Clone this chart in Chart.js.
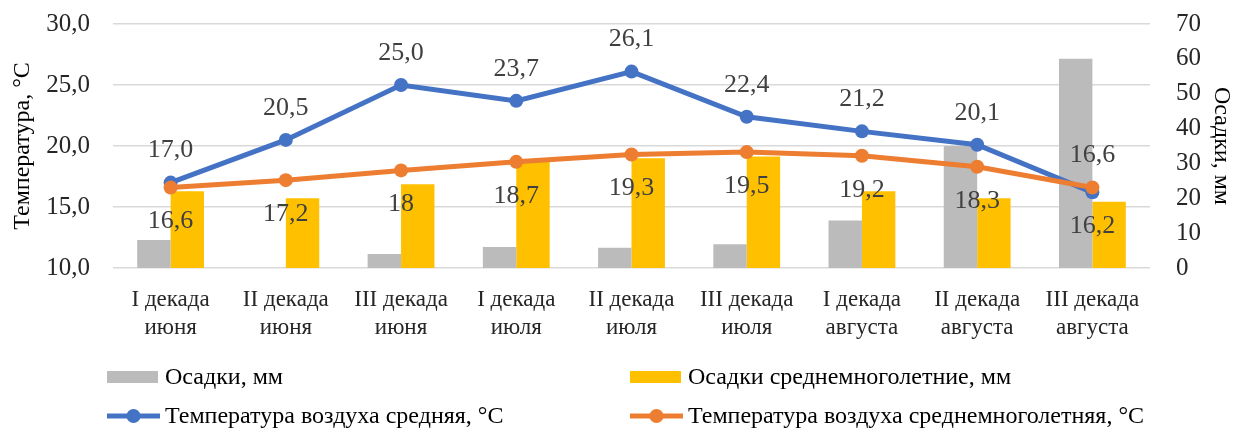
<!DOCTYPE html>
<html>
<head>
<meta charset="utf-8">
<script src="https://cdn.jsdelivr.net/npm/chart.js@4"></script>
<style>
  html, body { margin: 0; padding: 0; background: #fff; }
  #wrap { width: 1236px; height: 432px; }
</style>
</head>
<body>
<div id="wrap"><canvas id="canvas" width="1236" height="432"></canvas></div>
<script>
// categories (two-line labels)
var decades = [
    ['I декада', 'июня'], ['II декада', 'июня'], ['III декада', 'июня'],
    ['I декада', 'июля'], ['II декада', 'июля'], ['III декада', 'июля'],
    ['I декада', 'августа'], ['II декада', 'августа'], ['III декада', 'августа']
];
// precipitation, mm (right axis)
var rain = [8, 0, 4, 6, 5.8, 6.8, 13.6, 35, 60];
var rainNorm = [22, 20, 24, 30.5, 31.5, 32, 22, 20, 19];
// temperature, °C (left axis)
var tempMean = [17.0, 20.5, 25.0, 23.7, 26.1, 22.4, 21.2, 20.1, 16.2];
var tempNorm = [16.6, 17.2, 18, 18.7, 19.3, 19.5, 19.2, 18.3, 16.6];

var serif = "'Liberation Serif', 'Times New Roman', serif";
var comma = function(s) { return String(s).replace('.', ','); };

// data labels for the two temperature lines
var lineLabels = {
    id: 'lineLabels',
    afterDatasetsDraw: function(chart) {
        var ctx = chart.ctx;
        ctx.save();
        ctx.font = '26px ' + serif;
        ctx.fillStyle = '#404040';
        ctx.textAlign = 'center';
        ctx.textBaseline = 'middle';
        [2, 3].forEach(function(di) {
            var meta = chart.getDatasetMeta(di);
            meta.data.forEach(function(pt, i) {
                var v = chart.data.datasets[di].data[i];
                var other = di == 2 ? tempNorm[i] : tempMean[i];
                var up = v >= other;
                var txt = di == 2 ? comma(v.toFixed(1)) : comma(v);
                ctx.fillText(txt, pt.x, pt.y + (up ? -32 : 34));
            });
        });
        ctx.restore();
    }
};

// 2x2 legend under the chart
var gridLegend = {
    id: 'gridLegend',
    afterDraw: function(chart) {
        var ctx = chart.ctx;
        var ds = chart.data.datasets;
        var cols = [107, 630], rows = [377, 416];
        ctx.save();
        ctx.font = '24px ' + serif;
        ctx.textBaseline = 'middle';
        ds.forEach(function(d, i) {
            var x = cols[i % 2], y = rows[Math.floor(i / 2)];
            if (d.type == 'bar') {
                ctx.fillStyle = d.backgroundColor;
                ctx.fillRect(x, y - 6, 51, 12);
            } else {
                ctx.strokeStyle = d.borderColor;
                ctx.lineWidth = 5;
                ctx.beginPath();
                ctx.moveTo(x, y); ctx.lineTo(x + 53, y);
                ctx.stroke();
                ctx.fillStyle = d.borderColor;
                ctx.beginPath();
                ctx.arc(x + 26.5, y, 7, 0, Math.PI * 2);
                ctx.fill();
            }
            ctx.fillStyle = '#000';
            ctx.fillText(d.label, x + 58, y + 1);
        });
        ctx.restore();
    }
};

// keep vertical axes from adding extra top/bottom room
function fixY(w) {
    return function(s) { s.width = w; s.paddingTop = 0; s.paddingBottom = 0; };
}

var ctx = document.getElementById('canvas').getContext('2d');
var myChart = new Chart(ctx, {
    data: {
        labels: decades,
        datasets: [
            {
                type: 'bar',
                label: 'Осадки, мм',
                data: rain,
                yAxisID: 'yR',
                backgroundColor: '#BBBBBB',
                categoryPercentage: 0.58,
                barPercentage: 1,
                order: 3
            },
            {
                type: 'bar',
                label: 'Осадки среднемноголетние, мм',
                data: rainNorm,
                yAxisID: 'yR',
                backgroundColor: '#FFC000',
                categoryPercentage: 0.58,
                barPercentage: 1,
                order: 3
            },
            {
                type: 'line',
                label: 'Температура воздуха средняя, °С',
                data: tempMean,
                yAxisID: 'yL',
                borderColor: '#4472C4',
                backgroundColor: '#4472C4',
                borderWidth: 5,
                pointRadius: 7,
                pointBorderWidth: 0,
                tension: 0,
                order: 2
            },
            {
                type: 'line',
                label: 'Температура воздуха среднемноголетняя, °С',
                data: tempNorm,
                yAxisID: 'yL',
                borderColor: '#ED7D31',
                backgroundColor: '#ED7D31',
                borderWidth: 5,
                pointRadius: 7,
                pointBorderWidth: 0,
                tension: 0,
                order: 1
            }
        ]
    },
    options: {
        responsive: false,
        animation: false,
        layout: { padding: { top: 24, bottom: 76, left: 0, right: 0 } },
        plugins: {
            legend: { display: false },
            tooltip: { enabled: false }
        },
        scales: {
            x: {
                grid: { display: false },
                border: { display: false },
                ticks: {
                    color: '#262626',
                    font: { family: serif, size: 23, lineHeight: 1.22 },
                    padding: 10,
                    maxRotation: 0,
                    autoSkip: false
                },
                afterFit: function(s) { s.height = 88; }
            },
            yL: {
                position: 'left',
                min: 10,
                max: 30,
                ticks: {
                    stepSize: 5,
                    autoSkip: false,
                    color: '#262626',
                    font: { family: serif, size: 25 },
                    padding: 23,
                    callback: function(v) { return comma(v.toFixed(1)); }
                },
                grid: { color: '#D9D9D9', lineWidth: 1.5, drawTicks: false },
                border: { display: false },
                title: {
                    display: true,
                    text: 'Температура, °С',
                    color: '#000',
                    font: { family: serif, size: 24 },
                    padding: { top: 8, bottom: 0 }
                },
                afterFit: fixY(113)
            },
            yR: {
                position: 'right',
                min: 0,
                max: 70,
                ticks: {
                    stepSize: 10,
                    autoSkip: false,
                    color: '#262626',
                    font: { family: serif, size: 25 },
                    padding: 18
                },
                grid: { display: false },
                border: { display: false },
                title: {
                    display: true,
                    text: 'Осадки, мм',
                    color: '#000',
                    font: { family: serif, size: 24 },
                    padding: 0
                },
                afterFit: fixY(86)
            }
        }
    },
    plugins: [lineLabels, gridLegend]
});
</script>
</body>
</html>
